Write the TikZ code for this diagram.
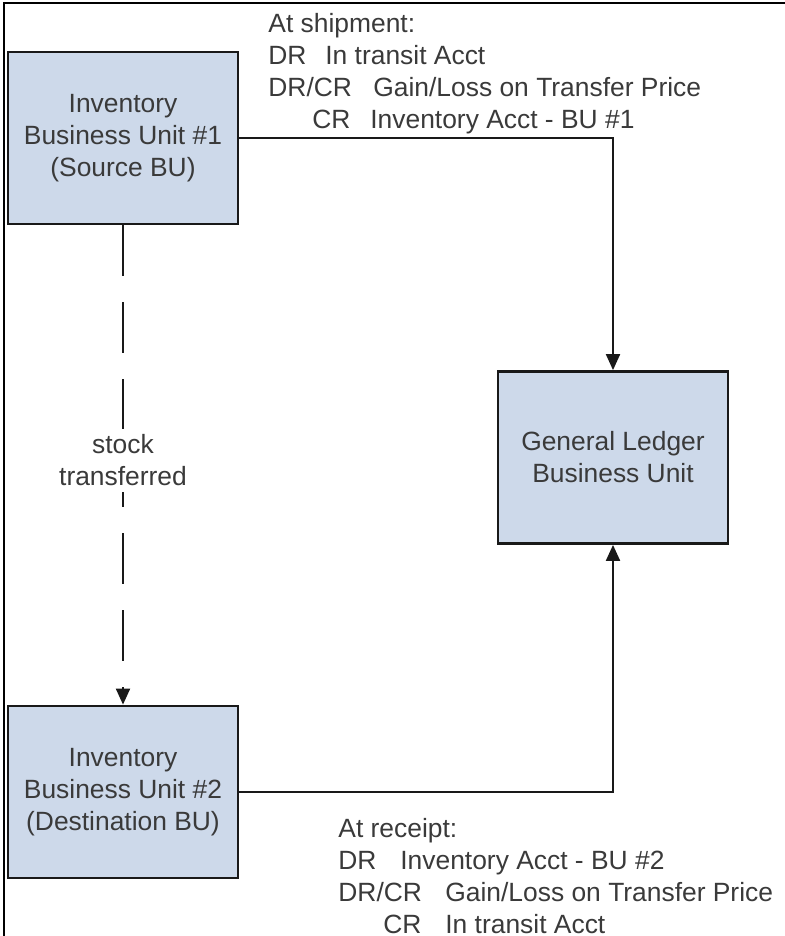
\documentclass[tikz,border=0pt]{standalone}
\usepackage{fontspec}
\setmainfont{Liberation Sans}
\usetikzlibrary{arrows.meta}

\definecolor{unitfill}{RGB}{205,217,234}
\definecolor{inkgray}{RGB}{58,58,58}

\tikzset{
	unit/.style={draw=black!90, line width=1.4pt, fill=unitfill, text=inkgray,
		minimum width=115pt, minimum height=86pt, align=center, inner sep=0pt},
	entry/.style={text=inkgray, align=left, inner sep=0pt, anchor=north west},
	flow/.style={line width=1pt, draw=black!90, -{Triangle[width=7pt,length=8pt]}}
}

\begin{document}
\begin{tikzpicture}[x=0.5pt, y=-0.5pt, font=\fontsize{13.2}{16}\selectfont]
	\useasboundingbox (0,0) rectangle (785,936);
	% open frame, left and top only
	\draw[line width=0.8pt] (4,936) -- (4,3) -- (785,3);

	\node[unit] (BU1) at (123,138) {Inventory\\Business Unit \#1\\(Source BU)};
	\node[unit] (BU2) at (123,792) {Inventory\\Business Unit \#2\\(Destination BU)};
	\node[unit] (GL) at (613,457.5) {General Ledger\\Business Unit};

	\coordinate (ship) at (GL.north |- BU1.east);
	\coordinate (recv) at (GL.south |- BU2.east);

	\draw[flow] (BU1.east) -- (ship) -- (GL.north);
	\draw[flow] (BU2.east) -- (recv) -- (GL.south);
	\draw[flow, dash pattern=on 25.5pt off 13pt] (BU1.south) -- (BU2.north)
		node[pos=0.49, fill=white, text=inkgray, align=center, inner sep=3pt] {stock\\transferred};

	\node[entry] (shiptxt) at (268,13) {At shipment:\\
		\makebox[28.5pt][l]{DR}In transit Acct\\
		\makebox[52.5pt][l]{DR/CR}Gain/Loss on Transfer Price\\
		\hspace*{22pt}\makebox[29pt][l]{CR}Inventory Acct - BU \#1};
	\node[entry] (recvtxt) at (338,818) {At receipt:\\
		\makebox[31pt][l]{DR}Inventory Acct - BU \#2\\
		\makebox[53.5pt][l]{DR/CR}Gain/Loss on Transfer Price\\
		\hspace*{22.5pt}\makebox[31pt][l]{CR}In transit Acct};
\end{tikzpicture}
\end{document}
